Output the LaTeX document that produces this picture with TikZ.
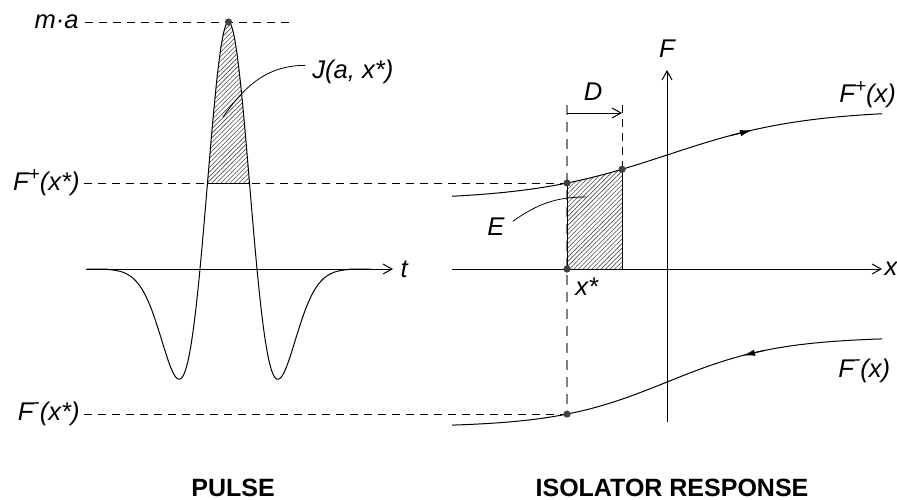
\documentclass[tikz,border=0pt]{standalone}
\usepackage{fontspec}
\setmainfont{Liberation Sans}
\usetikzlibrary{arrows.meta,patterns.meta}

% raised signs of F+ and F-
\newcommand{\pluslift}{\raisebox{5pt}{\fontsize{9.5}{10}\selectfont +}}
\newcommand{\minuslift}{\raisebox{6pt}{\fontsize{9.5}{10}\selectfont -}}

\begin{document}
\begin{tikzpicture}[
    x=0.5pt,
    y=-0.5pt,
    lbl/.style={
        font=\fontsize{12.8}{15}\selectfont\itshape,
        inner sep=0pt
    },
    title/.style={
        font=\fontsize{12.5}{15}\selectfont\bfseries,
        inner sep=0pt
    },
    guide/.style={
        dash pattern=on 4pt off 3pt,
        line width=0.5pt
    },
    xguide/.style={
        dash pattern=on 5pt off 3.5pt,
        draw=gray,
        line width=0.7pt
    },
    axis/.style={
        -{Straight Barb[length=4.5pt,width=5pt]},
        line width=0.5pt
    },
    curve/.style={
        line width=0.5pt
    },
    hatch/.style={
        pattern={Lines[angle=45,distance=1.6pt,line width=0.3pt]},
        pattern color=black!70
    },
    dot/.style={
        fill=black!75
    },
    leader/.style={
        line width=0.4pt
    },
    flow/.style={
        -{Latex[length=6pt,width=3.2pt]},
        line width=0.5pt
    }
]

\useasboundingbox (0,0) rectangle (897,499);

% Points
\coordinate (peak) at (228.5,22);
\coordinate (maend) at (290,22);
\coordinate (jl) at (207.5,183);
\coordinate (jr) at (249.5,183);
\coordinate (jend) at (223,117);
\coordinate (xs) at (567,269);
\coordinate (fp) at (567,{155-45*tanh((567-667)/137)});
\coordinate (fd) at (622,{155-45*tanh((622-667)/137)});
\coordinate (fm) at (567,{382-45*tanh((567-667)/112)});
\coordinate (xtop) at (567,105);
\coordinate (dtop) at (622,105);
\coordinate (dbot) at (622,269);
\coordinate (da) at (567,113);
\coordinate (db) at (622,113);
\coordinate (eend) at (586,197);
\coordinate (pa1) at (730,{155-45*tanh((730-667)/137)});
\coordinate (pa2) at (752,{155-45*tanh((752-667)/137)});
\coordinate (ma1) at (765,{382-45*tanh((765-667)/112)});
\coordinate (ma2) at (743,{382-45*tanh((743-667)/112)});

% Pulse
\fill[hatch] plot[domain=-21:21, samples=60] ({228.5+\x},{269-247*(1-(\x/28.5)*(\x/28.5))*exp(-0.5*(\x/28.5)*(\x/28.5))}) -- cycle;
\draw[curve] (jl) -- (jr);
\draw[axis] (86,269) -- (393,269) node[lbl, right=3.5pt] (tlbl) {t};
\draw[curve] plot[domain=-142:142, samples=285] ({228.5+\x},{269-247*(1-(\x/28.5)*(\x/28.5))*exp(-0.5*(\x/28.5)*(\x/28.5))});

% Levels
\node[lbl, anchor=base east] (malbl) at (79,28) {m·a};
\node[lbl, anchor=base east] (fplbl) at (80,190) {F\pluslift(x*)};
\node[lbl, anchor=base east] (fmlbl) at (80,420) {F\minuslift(x*)};
\draw[guide] (malbl.east |- peak) ++(3pt,0) -- (maend);
\draw[guide] (fplbl.east |- fp) ++(2pt,0) -- (fp);
\draw[guide] (fmlbl.east |- fm) ++(2pt,0) -- (fm);

\node[lbl, anchor=base west] (jlbl) at (312,78) {J(a, x*)};
\draw[leader] ([xshift=-3.5pt,yshift=3pt]jlbl.west) to[out=180,in=55] (jend);

% Isolator response
\fill[hatch] (xs) -- plot[domain=567:622, samples=20] (\x,{155-45*tanh((\x-667)/137)}) -- (dbot) -- cycle;
\draw[axis] (452,269) -- (882,269) node[lbl, right=1pt] (xlbl) {x};
\draw[axis] (667,422) -- (667,70) node[lbl, above=6pt] (flbl) {F};
\draw[xguide] (xtop) -- (fm);
\draw[guide] (dtop) -- (fd);
\draw[curve] (fp) -- (xs);
\draw[curve] (fd) -- (dbot);
\draw[axis] (da) -- (db);
\node[lbl] (dlbl) at (593,92) {D};

\draw[curve] plot[domain=452:882, samples=120] (\x,{155-45*tanh((\x-667)/137)});
\draw[curve] plot[domain=452:882, samples=120] (\x,{382-45*tanh((\x-667)/112)});
\draw[flow] (pa1) -- (pa2);
\draw[flow] (ma1) -- (ma2);

\node[lbl, anchor=base west] (fpxlbl) at (839,102) {F\pluslift(x)};
\node[lbl, anchor=base west] (fmxlbl) at (838,377) {F\minuslift(x)};
\node[lbl, anchor=base west] (elbl) at (487,235) {E};
\node[lbl, anchor=base west] (xslbl) at (575,295) {x*};
\draw[leader] ([xshift=4pt,yshift=2.5pt]elbl.east) to[out=35,in=180] (eend);

% Dots
\foreach \p in {peak,fp,fd,xs,fm}
    \fill[dot] (\p) circle (1.8pt);

% Titles
\node[title, anchor=base] (pulse) at (233,496) {PULSE};
\node[title, anchor=base] (resp) at (672,496) {ISOLATOR RESPONSE};

\end{tikzpicture}
\end{document}
